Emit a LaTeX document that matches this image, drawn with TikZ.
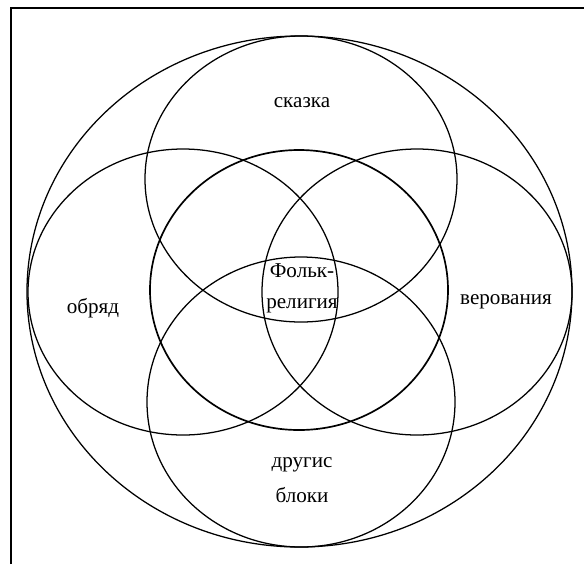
\documentclass[tikz,border=0pt]{standalone}
\usepackage{fontspec}
\setmainfont{Liberation Serif}
\usepackage{tikz}
\usetikzlibrary{shapes.geometric}
\tikzset{
  ring/.style={
    draw=black, line width=0.9pt, ellipse, inner sep=0pt
  },
  corering/.style={
    ring, line width=1.2pt
  },
  lbl/.style={
    font=\fontsize{15}{22}\selectfont, text=black, align=center, inner sep=1pt
  },
  frameline/.style={
    line width=1.3pt, draw=black
  },
}

\begin{document}
\begin{tikzpicture}[x=0.25mm, y=-0.25mm]
\useasboundingbox (0,0) rectangle (584,564);

% scanned frame: only left and top edges
\coordinate (fbl) at (11,564);
\coordinate (ftl) at (11,8);
\coordinate (ftr) at (584,8);
\draw[frameline] (fbl) -- (ftl) -- (ftr);

% the big enclosing ellipse
\node[ring, minimum width=136.25mm, minimum height=127.75mm] (whole) at (299.5,291.5) {};

% four blocks round the core
\node[ring, minimum width=78mm,   minimum height=71.5mm] (skazka)  at (301,179) {};
\node[ring, minimum width=77mm,   minimum height=72.5mm] (bloki)   at (301,402) {};
\node[ring, minimum width=77.5mm, minimum height=71.5mm] (obryad)  at (183,292) {};
\node[ring, minimum width=77.5mm, minimum height=71.5mm] (verov)   at (417,292) {};

% core
\node[corering, minimum width=74.5mm, minimum height=70mm] (core) at (299,290) {};

% labels
\node[lbl] (t_skazka) at (302,103) {сказка};
\node[lbl] (t_obryad) at (93,308)  {обряд};
\node[lbl] (t_verov)  at (506,302) {верования};
\node[lbl] (t_core)   at (302,288) {Фольк-\\религия};
\node[lbl, font=\fontsize{15}{25}\selectfont] (t_bloki) at (302,480) {другис\\блоки};

\end{tikzpicture}
\end{document}
